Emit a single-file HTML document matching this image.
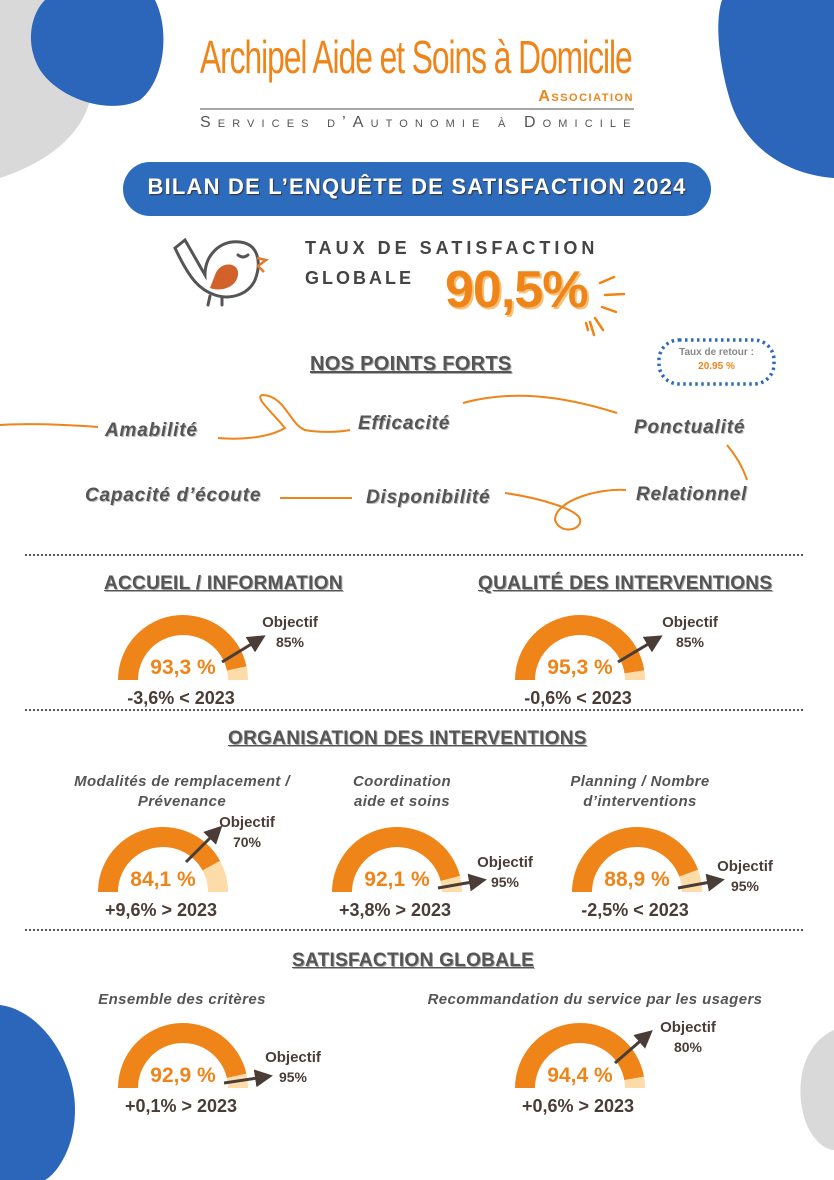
<!DOCTYPE html>
<html><head><meta charset="utf-8"><style>
html,body{margin:0;padding:0;background:#fff;}
body{width:834px;height:1180px;position:relative;overflow:hidden;font-family:"Liberation Sans",sans-serif;}
.t{position:absolute;white-space:nowrap;}
.h{font-weight:bold;color:#555;font-size:19px;text-decoration:underline;text-shadow:1px 1px 0 #aaa;letter-spacing:0.3px}
.w{font-weight:bold;font-style:italic;color:#555;font-size:19px;letter-spacing:0.8px;text-shadow:1px 1px 0 #bbb}
.sub{font-weight:bold;font-style:italic;color:#555;font-size:15px;letter-spacing:0.4px;text-align:center;line-height:20px}
.dots{position:absolute;left:25px;width:778px;border-top:2px dotted #555;}
</style></head><body>
<svg width="834" height="1180" style="position:absolute;left:0;top:0">
 <path d="M0 0 L85 0 C70 40 80 60 90 100 C80 140 40 165 0 178 Z" fill="#d9d9d9"/>
 <path d="M45 0 L155 0 C170 30 165 80 140 100 C110 115 60 100 40 70 C25 45 30 15 45 0Z" fill="#2b66bb"/>
 <path d="M722 0 L834 0 L834 178 C790 175 745 150 730 100 C718 60 715 20 722 0Z" fill="#2b66bb"/>
 <path d="M0 1005 C40 1010 75 1060 75 1110 C75 1150 55 1175 45 1180 L0 1180Z" fill="#2b66bb"/>
 <path d="M834 1030 C800 1045 795 1090 805 1120 C812 1140 825 1150 834 1150Z" fill="#d9d9d9"/>
 <line x1="200" y1="109" x2="634" y2="109" stroke="#888" stroke-width="1.5"/>
 <rect x="123" y="162" width="588" height="54" rx="27" fill="#2d6bbd"/>
 <g fill="none" stroke="#555" stroke-width="3" stroke-linecap="round">
  <path d="M175 248 L185 240 L205 275 C205 255 220 240 240 242 C258 244 262 262 255 280 C248 295 230 300 215 295 C200 290 190 280 175 248Z"/>
  <path d="M210 296 L208 305 M222 298 L222 305"/>
  <path d="M238 255 q5 4 10 0"/>
 </g>
 <path d="M215 275 C220 260 240 262 238 275 C236 288 220 292 210 288Z" fill="#d0622a"/>
 <path d="M257 258 L266 260 L258 266 L264 272" fill="none" stroke="#e07a2c" stroke-width="2.5"/>
 <g stroke="#ef8419" stroke-width="2.5" stroke-linecap="round">
  <line x1="600" y1="283" x2="614" y2="277"/><line x1="605" y1="295" x2="624" y2="294"/><line x1="602" y1="307" x2="616" y2="312"/><line x1="595" y1="318" x2="603" y2="330"/><line x1="590" y1="322" x2="594" y2="335"/><line x1="586" y1="323" x2="588" y2="330"/>
 </g>
 <rect x="659" y="340" width="115" height="44" rx="20" fill="none" stroke="#2d6bbd" stroke-width="3.5" stroke-dasharray="2.5 3.5"/>
 <g fill="none" stroke="#ef8419" stroke-width="2">
  <path d="M0 425 C30 423 70 425 98 427"/>
  <path d="M218 438 C240 440 268 438 285 428 C270 410 255 398 262 395 C285 395 290 425 305 430 C320 433 340 432 350 430"/>
  <path d="M463 403 C510 390 560 395 617 413"/>
  <path d="M727 445 C735 455 742 465 747 480"/>
  <path d="M280 498 L352 498"/>
  <path d="M505 493 C540 498 580 510 580 520 C582 530 560 535 555 520 C555 500 600 488 626 490"/>
 </g>
</svg>
<div class="t" style="left:200px;top:30px;font-size:46px;color:#ef8419;letter-spacing:-1.5px;transform:scaleX(0.69);transform-origin:left;">Archipel Aide et Soins à Domicile</div>
<div class="t" style="left:400px;width:234px;text-align:right;top:88px;font-size:16px;color:#ef8419;font-weight:bold;letter-spacing:1.5px;font-variant:small-caps">Association</div>
<div class="t" style="left:200px;top:114px;font-size:16px;color:#555;letter-spacing:7.1px;font-variant:small-caps">Services d’Autonomie à Domicile</div>
<div class="t" style="left:123px;top:174px;width:588px;text-align:center;font-size:22px;font-weight:bold;color:#fff;letter-spacing:1.2px;text-shadow:1px 1px 1px #333">BILAN DE L’ENQUÊTE DE SATISFACTION 2024</div>
<div class="t" style="left:305px;top:238px;font-size:18px;font-weight:bold;color:#444;letter-spacing:4px">TAUX DE SATISFACTION</div>
<div class="t" style="left:305px;top:268px;font-size:18px;font-weight:bold;color:#444;letter-spacing:3px">GLOBALE</div>
<div class="t" style="left:445px;top:260px;font-size:52px;font-weight:bold;color:#ef8419;text-shadow:2px 2px 0 #f6c27a;letter-spacing:-1px">90,5%</div>
<div class="t" style="left:659px;top:347px;width:115px;text-align:center;font-size:10px;font-weight:bold;color:#888">Taux de retour :</div>
<div class="t" style="left:659px;top:361px;width:115px;text-align:center;font-size:10px;font-weight:bold;color:#ef8419">20.95 %</div>
<div class="t h" style="left:310px;top:353px;font-size:20px">NOS POINTS FORTS</div>
<div class="t w" style="left:105px;top:420px">Amabilité</div>
<div class="t w" style="left:358px;top:413px">Efficacité</div>
<div class="t w" style="left:634px;top:417px">Ponctualité</div>
<div class="t w" style="left:85px;top:485px">Capacité d’écoute</div>
<div class="t w" style="left:366px;top:487px">Disponibilité</div>
<div class="t w" style="left:636px;top:484px">Relationnel</div>
<div class="dots" style="top:554px"></div>
<div class="dots" style="top:709px"></div>
<div class="dots" style="top:929px"></div>
<div class="t h" style="left:104px;top:573px">ACCUEIL / INFORMATION</div>
<div class="t h" style="left:478px;top:573px">QUALITÉ DES INTERVENTIONS</div>
<div class="t h" style="left:228px;top:728px">ORGANISATION DES INTERVENTIONS</div>
<div class="t h" style="left:292px;top:950px">SATISFACTION GLOBALE</div>
<div class="t sub" style="left:52px;top:772px;width:260px">Modalités de remplacement /<br>Prévenance</div>
<div class="t sub" style="left:317px;top:772px;width:170px">Coordination<br>aide et soins</div>
<div class="t sub" style="left:550px;top:772px;width:180px">Planning / Nombre<br>d’interventions</div>
<div class="t sub" style="left:52px;top:990px;width:260px">Ensemble des critères</div>
<div class="t sub" style="left:400px;top:990px;width:390px">Recommandation du service par les usagers</div>
<svg id="g" width="834" height="1180" style="position:absolute;left:0;top:0"></svg>
<script>
var G=[[183,680,93.3,"93,3 %","85%",290,622,222,662,258,640,"-3,6% < 2023"],
[580,680,95.3,"95,3 %","85%",690,622,618,662,655,640,"-0,6% < 2023"],
[163,892,84.1,"84,1 %","70%",247,822,186,862,216,832,"+9,6% > 2023"],
[397,892,92.1,"92,1 %","95%",505,862,438,888,478,881,"+3,8% > 2023"],
[637,892,88.9,"88,9 %","95%",745,866,678,888,716,881,"-2,5% < 2023"],
[183,1088,92.9,"92,9 %","95%",293,1057,224,1083,264,1077,"+0,1% > 2023"],
[580,1088,94.4,"94,4 %","80%",688,1027,615,1063,646,1036,"+0,6% > 2023"]];
var s="<defs><marker id='a' markerWidth='6' markerHeight='6' refX='3' refY='3' orient='auto'><path d='M0 0L6 3L0 6Z' fill='#4a3c36'/></marker></defs>";
function p(cx,cy,r,a){return [cx-r*Math.cos(a),cy-r*Math.sin(a)];}
G.forEach(function(g){var cx=g[0],cy=g[1],R=65,r=45,a=Math.PI*g[2]/100;
var o1=p(cx,cy,R,0),o2=p(cx,cy,R,a),i2=p(cx,cy,r,a),i1=p(cx,cy,r,0),oe=p(cx,cy,R,Math.PI),ie=p(cx,cy,r,Math.PI);
s+="<path d='M"+o1+" A65 65 0 0 1 "+o2+" L"+i2+" A45 45 0 0 0 "+i1+"Z' fill='#ef8419'/>";
s+="<path d='M"+o2+" A65 65 0 0 1 "+oe+" L"+ie+" A45 45 0 0 0 "+i2+"Z' fill='#fddcaa'/>";
s+="<text x='"+(cx)+"' y='"+(cy-6)+"' text-anchor='middle' font-family='Liberation Sans' font-weight='bold' font-size='21' fill='#ef8419'>"+g[3]+"</text>";
s+="<line x1='"+g[7]+"' y1='"+g[8]+"' x2='"+g[9]+"' y2='"+g[10]+"' stroke='#4a3c36' stroke-width='3' marker-end='url(#a)'/>";
s+="<text x='"+g[5]+"' y='"+(g[6]+5)+"' text-anchor='middle' font-family='Liberation Sans' font-weight='bold' font-size='15' fill='#4a3c36'>Objectif</text>";
s+="<text x='"+g[5]+"' y='"+(g[6]+25)+"' text-anchor='middle' font-family='Liberation Sans' font-weight='bold' font-size='14' fill='#4a3c36'>"+g[4]+"</text>";
s+="<text x='"+(cx-2)+"' y='"+(cy+24)+"' text-anchor='middle' font-family='Liberation Sans' font-weight='bold' font-size='18' fill='#4a3c36'>"+g[11].replace('<','&lt;').replace('>','&gt;')+"</text>";});
document.getElementById('g').innerHTML=s;
</script>
</body></html>
